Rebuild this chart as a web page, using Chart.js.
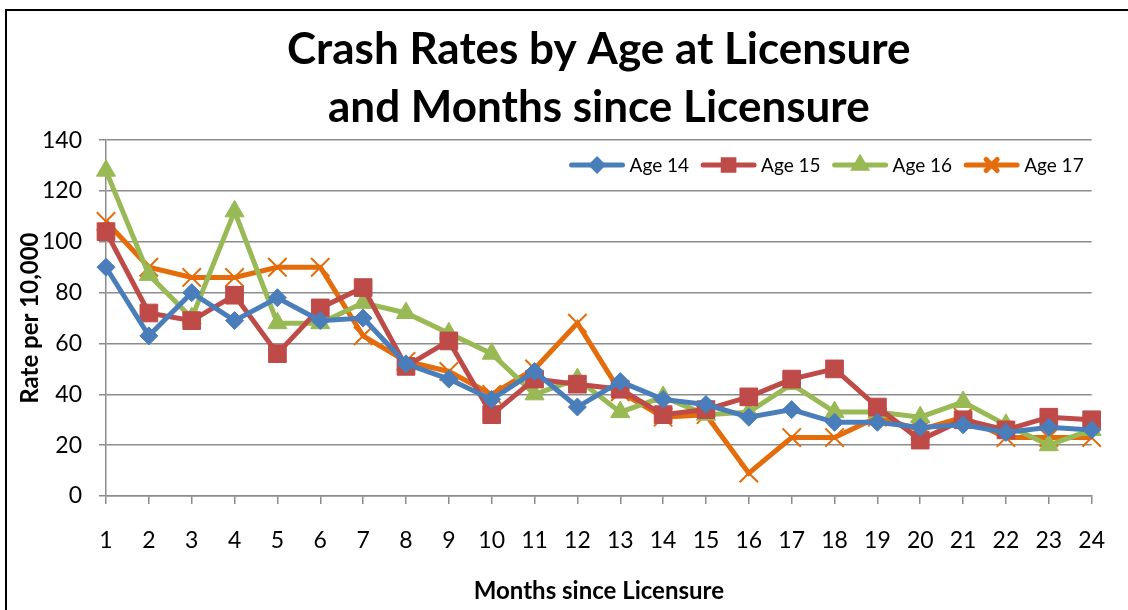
<!DOCTYPE html>
<html>
<head>
<meta charset="utf-8">
<script src="https://cdn.jsdelivr.net/npm/chart.js@4"></script>
<style>
  body { margin: 0; background: #fff; }
  #wrap { width: 1128px; height: 610px; }
</style>
</head>
<body>
<div id="wrap"><canvas id="myChart" width="1128" height="610"></canvas></div>
<script>
var months = ['1','2','3','4','5','6','7','8','9','10','11','12','13','14','15','16','17','18','19','20','21','22','23','24'];
var age14 = [90, 63, 80, 69, 78, 69, 70, 52, 46, 38, 49, 35, 45, 38, 36, 31, 34, 29, 29, 27, 28, 25, 27, 26];
var age15 = [104, 72, 69, 79, 56, 74, 82, 51, 61, 32, 46, 44, 42, 32, 34, 39, 46, 50, 35, 22, 30, 26, 31, 30];
var age16 = [128, 87, 70, 112, 68, 68, 76, 72, 64, 56, 40, 46, 33, 39, 32, 33, 44, 33, 33, 31, 37, 28, 20, 26];
var age17 = [108, 90, 86, 86, 90, 90, 63, 53, 49, 40, 50, 68, 41, 31, 32, 9, 23, 23, 31, 26, 31, 23, 23, 23];
var yTicks = [0, 20, 40, 60, 80, 100, 120, 140];

var colors = ['#4A7EBB', '#BE4B48', '#98B954', '#E46C0A'];
var styles = ['rectRot', 'rect', 'triangle', 'crossRot'];
var radii = [9, 12.5, 11, 13];

function makeSet(label, data, i) {
  return {
    label: label,
    data: data,
    borderColor: colors[i],
    backgroundColor: colors[i],
    borderWidth: 5,
    tension: 0,
    pointStyle: styles[i],
    pointRadius: radii[i],
    pointHoverRadius: radii[i],
    pointBorderWidth: i === 3 ? 2 : 1,
    pointBorderColor: colors[i],
    pointBackgroundColor: colors[i]
  };
}

// outer frame (left + top edges visible in the crop)
var frame = {
  id: 'frame',
  afterDraw: function(chart) {
    var c = chart.ctx;
    c.save();
    c.strokeStyle = '#000'; c.lineWidth = 2;
    c.beginPath(); c.moveTo(6, 610); c.lineTo(6, 10); c.lineTo(1128, 10); c.stroke();
    c.restore();
  }
};

// Excel style legend: line + marker, placed inside the plot at the top right
var lineLegend = {
  id: 'lineLegend',
  afterDatasetsDraw: function(chart) {
    var c = chart.ctx, area = chart.chartArea;
    var sw = 55, gap = 5, space = 12, y = 165;
    c.save();
    c.font = '19px Lato';
    c.textBaseline = 'middle';
    var sets = chart.data.datasets;
    var total = 0;
    sets.forEach(function(ds) { total += sw + gap + c.measureText(ds.label).width + space; });
    var x = area.right - 8 - total + space;
    sets.forEach(function(ds, i) {
      c.strokeStyle = colors[i]; c.lineWidth = 5; c.lineCap = 'round';
      c.beginPath(); c.moveTo(x + 2, y); c.lineTo(x + sw - 2, y); c.stroke();
      c.fillStyle = colors[i];
      Chart.helpers.drawPoint(c, { pointStyle: styles[i], radius: radii[i] * 0.6, borderWidth: i === 3 ? 2 : 1 }, x + sw / 2, y);
      c.fillStyle = '#000';
      c.fillText(ds.label, x + sw + gap, y + 1);
      x += sw + gap + c.measureText(ds.label).width + space;
    });
    c.restore();
  }
};

var ctx = document.getElementById('myChart').getContext('2d');
var myChart = new Chart(ctx, {
  type: 'line',
  data: {
    labels: months,
    datasets: [
      makeSet('Age 14', age14, 0),
      makeSet('Age 15', age15, 1),
      makeSet('Age 16', age16, 2),
      makeSet('Age 17', age17, 3)
    ]
  },
  options: {
    responsive: false,
    animation: false,
    layout: { padding: { left: 0, right: 35, top: 0, bottom: 0 } },
    plugins: {
      title: {
        display: true,
        fullSize: false,
        text: ['Crash Rates by Age at Licensure', 'and Months since Licensure'],
        color: '#000',
        font: { family: 'Lato', size: 44, weight: 'bold', lineHeight: 1.32 },
        padding: { top: 21, bottom: 3 }
      },
      legend: { display: false },
      tooltip: { enabled: false }
    },
    scales: {
      x: {
        offset: false,
        afterFit: function(s) { s.height = 114; },
        grid: { display: true, drawOnChartArea: false, drawTicks: true, tickLength: 8, color: '#8C8C8C', lineWidth: 1.5, offset: false },
        border: { color: '#8C8C8C', width: 1.5 },
        ticks: { color: '#000', font: { family: 'Lato', size: 23 }, padding: 23, maxRotation: 0, autoSkip: false },
        title: { display: true, text: 'Months since Licensure', color: '#000', font: { family: 'Lato', size: 24, weight: 'bold', lineHeight: 1.2 }, padding: { top: 0, bottom: 4 } }
      },
      y: {
        min: 0,
        max: 140,
        afterFit: function(s) { s.width = 106; },
        afterBuildTicks: function(s) { s.ticks = yTicks.map(function(v) { return { value: v }; }); },
        grid: { color: '#8C8C8C', lineWidth: 1.5, tickLength: 7 },
        border: { color: '#8C8C8C', width: 1.5 },
        ticks: { color: '#000', font: { family: 'Lato', size: 23 }, padding: 17 },
        title: { display: true, text: 'Rate per 10,000', color: '#000', font: { family: 'Lato', size: 24, weight: 'bold', lineHeight: 1.2 }, padding: { top: 16, bottom: 0 } }
      }
    }
  },
  plugins: [frame, lineLegend]
});
</script>
</body>
</html>
